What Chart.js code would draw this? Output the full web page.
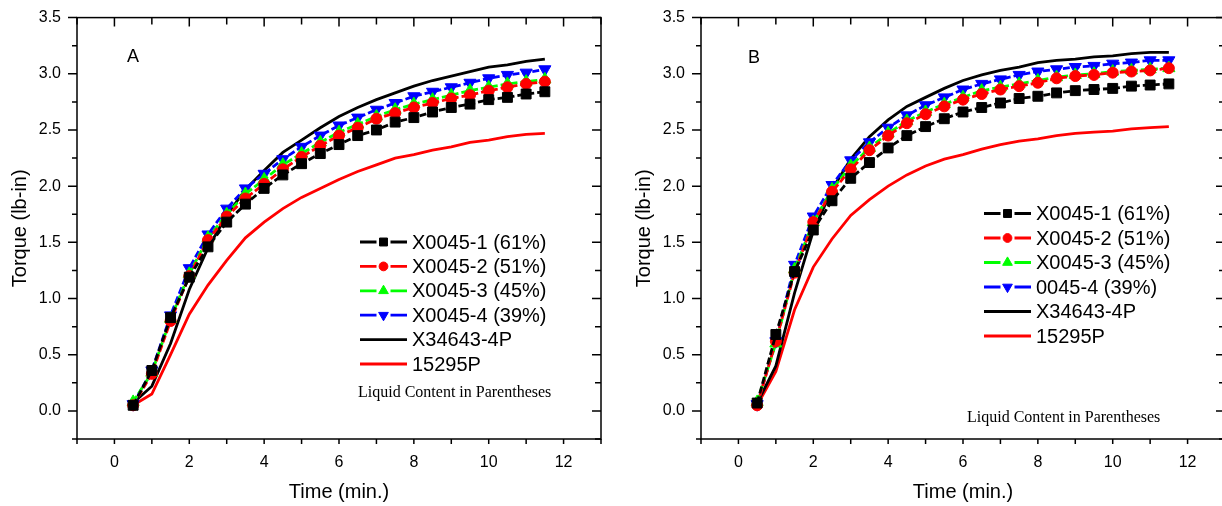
<!DOCTYPE html>
<html>
<head>
<meta charset="utf-8">
<script src="https://cdn.jsdelivr.net/npm/chart.js@4.4.0/dist/chart.umd.min.js"></script>
<style>
html, body { margin: 0; padding: 0; background: #fff; overflow: hidden; width: 1222px; height: 506px; }
.panel { position: absolute; top: 0; width: 611px; height: 506px; }
#boxA { left: 0; }
#boxB { left: 624px; }
</style>
</head>
<body>
<div class="panel" id="boxA"><canvas id="chartA"></canvas></div>
<div class="panel" id="boxB"><canvas id="chartB"></canvas></div>
<script>
// time axis (min.)
const times = [0.5, 1.0, 1.5, 2.0, 2.5, 3.0, 3.5, 4.0, 4.5, 5.0, 5.5, 6.0,
               6.5, 7.0, 7.5, 8.0, 8.5, 9.0, 9.5, 10.0, 10.5, 11.0, 11.5];

// panel A - torque (lb-in)
const a_x0045_1 = [0.05, 0.36, 0.83, 1.19, 1.46, 1.68, 1.84, 1.98, 2.10, 2.20, 2.29, 2.37, 2.45, 2.50, 2.57, 2.61, 2.66, 2.70, 2.73, 2.77, 2.79, 2.82, 2.84];
const a_x0045_2 = [0.05, 0.33, 0.80, 1.20, 1.52, 1.73, 1.89, 2.02, 2.15, 2.26, 2.36, 2.45, 2.52, 2.60, 2.65, 2.70, 2.74, 2.78, 2.81, 2.85, 2.88, 2.91, 2.93];
const a_x0045_3 = [0.08, 0.34, 0.82, 1.22, 1.54, 1.75, 1.93, 2.06, 2.19, 2.29, 2.39, 2.48, 2.55, 2.62, 2.68, 2.73, 2.77, 2.81, 2.85, 2.88, 2.91, 2.93, 2.95];
const a_x0045_4 = [0.06, 0.36, 0.85, 1.27, 1.57, 1.80, 1.98, 2.11, 2.24, 2.35, 2.45, 2.54, 2.61, 2.68, 2.74, 2.80, 2.84, 2.88, 2.92, 2.96, 2.99, 3.01, 3.04];
const a_x34643 = [0.07, 0.22, 0.60, 1.08, 1.45, 1.74, 1.97, 2.14, 2.30, 2.41, 2.52, 2.62, 2.70, 2.77, 2.83, 2.89, 2.94, 2.98, 3.02, 3.06, 3.08, 3.11, 3.13];
const a_15295 = [0.05, 0.15, 0.50, 0.86, 1.12, 1.34, 1.54, 1.68, 1.80, 1.90, 1.98, 2.06, 2.13, 2.19, 2.25, 2.28, 2.32, 2.35, 2.39, 2.41, 2.44, 2.46, 2.47];

// panel B - torque (lb-in)
const b_x0045_1 = [0.07, 0.68, 1.24, 1.61, 1.87, 2.07, 2.21, 2.34, 2.45, 2.53, 2.60, 2.66, 2.70, 2.74, 2.78, 2.80, 2.83, 2.85, 2.86, 2.87, 2.89, 2.90, 2.91];
const b_x0045_2 = [0.05, 0.62, 1.23, 1.68, 1.95, 2.15, 2.32, 2.45, 2.56, 2.64, 2.71, 2.77, 2.82, 2.86, 2.89, 2.92, 2.96, 2.98, 2.99, 3.01, 3.02, 3.03, 3.05];
const b_x0045_3 = [0.08, 0.60, 1.26, 1.68, 1.97, 2.18, 2.34, 2.47, 2.58, 2.66, 2.73, 2.79, 2.85, 2.88, 2.91, 2.94, 2.97, 2.99, 3.00, 3.02, 3.03, 3.04, 3.05];
const b_x0045_4 = [0.06, 0.62, 1.30, 1.73, 2.01, 2.23, 2.39, 2.52, 2.63, 2.72, 2.79, 2.86, 2.91, 2.95, 2.99, 3.02, 3.04, 3.06, 3.07, 3.09, 3.10, 3.12, 3.12];
const b_x34643 = [0.07, 0.40, 1.05, 1.60, 1.97, 2.24, 2.44, 2.59, 2.71, 2.79, 2.87, 2.94, 2.99, 3.03, 3.06, 3.10, 3.12, 3.13, 3.15, 3.16, 3.18, 3.19, 3.19];
const b_15295 = [0.05, 0.35, 0.90, 1.28, 1.53, 1.74, 1.88, 2.00, 2.10, 2.18, 2.24, 2.28, 2.33, 2.37, 2.40, 2.42, 2.45, 2.47, 2.48, 2.49, 2.51, 2.52, 2.53];

const namesA = ['X0045-1 (61%)', 'X0045-2 (51%)', 'X0045-3 (45%)', 'X0045-4 (39%)', 'X34643-4P', '15295P'];
const namesB = ['X0045-1 (61%)', 'X0045-2 (51%)', 'X0045-3 (45%)', '0045-4 (39%)', 'X34643-4P', '15295P'];

// series styles
const colors = ['#000000', '#ff0000', '#00ff00', '#0000ff', '#000000', '#ff0000'];
const shapes = ['rect', 'circle', 'triangle', 'triangle', false, false];
const turns = [0, 0, 0, 180, 0, 0];
const sizes = [7, 5.5, 7, 7, 0, 0];

Chart.defaults.font.family = '"Liberation Sans", Arial, sans-serif';
Chart.defaults.color = '#000';

function makeSets(series, names) {
  return series.map((vals, i) => ({
    label: names[i],
    data: times.map((t, j) => ({ x: t, y: vals[j] })),
    borderColor: colors[i],
    backgroundColor: colors[i],
    borderWidth: 2.8,
    borderDash: sizes[i] ? [7, 3] : [],
    pointStyle: shapes[i] || 'circle',
    pointRotation: turns[i],
    pointRadius: sizes[i],
    pointBorderWidth: 1,
    pointBorderColor: colors[i],
    pointBackgroundColor: colors[i],
    tension: 0,
    fill: false
  }));
}

function isHalf(v) { return Math.abs(v * 2 - Math.round(v * 2)) < 1e-6; }

const framePlugin = {
  id: 'frame',
  afterDraw(chart, args, o) {
    const ctx = chart.ctx;
    const { left, right, top, bottom } = chart.chartArea;
    const xs = chart.scales.x, ys = chart.scales.y;
    ctx.save();
    ctx.strokeStyle = '#000';
    ctx.lineWidth = 1.5;
    ctx.strokeRect(left, top, right - left, bottom - top);
    ctx.beginPath();
    xs.ticks.forEach(t => {
      const px = xs.getPixelForValue(t.value);
      const major = Math.round(t.value) % 2 === 0;
      ctx.moveTo(px, bottom); ctx.lineTo(px, bottom + 5);
      ctx.moveTo(px, top); ctx.lineTo(px, top + (major ? 9 : 7));
    });
    ys.ticks.forEach(t => {
      const py = ys.getPixelForValue(t.value);
      const major = isHalf(t.value);
      ctx.moveTo(left, py); ctx.lineTo(left - (major ? 9 : 5), py);
      ctx.moveTo(right, py); ctx.lineTo(right - (major ? 9 : 6), py);
    });
    ctx.stroke();

    // legend
    chart.data.datasets.forEach((ds, i) => {
      const y = o.legendTop + i * o.legendGap;
      const mid = (o.lineX0 + o.lineX1) / 2;
      ctx.strokeStyle = ds.borderColor;
      ctx.fillStyle = ds.borderColor;
      ctx.lineWidth = 2.8;
      ctx.beginPath();
      if (ds.pointRadius > 0) {
        ctx.moveTo(o.lineX0, y); ctx.lineTo(mid - 7, y);
        ctx.moveTo(mid + 7, y); ctx.lineTo(o.lineX1, y);
        ctx.stroke();
        ctx.lineWidth = 1;
        Chart.helpers.drawPoint(ctx, {
          pointStyle: ds.pointStyle, rotation: ds.pointRotation,
          radius: ds.pointRadius * 0.8, borderWidth: 1
        }, mid, y);
      } else {
        ctx.moveTo(o.lineX0, y); ctx.lineTo(o.lineX1, y);
        ctx.stroke();
      }
      ctx.fillStyle = '#000';
      ctx.font = '20px "Liberation Sans", Arial, sans-serif';
      ctx.textAlign = 'left';
      ctx.textBaseline = 'middle';
      ctx.fillText(ds.label, o.textX, y + 1);
    });

    ctx.fillStyle = '#000';
    ctx.font = '16px "Liberation Serif", "Times New Roman", serif';
    ctx.textAlign = 'left';
    ctx.textBaseline = 'middle';
    ctx.fillText('Liquid Content in Parentheses', o.noteX, o.noteY);

    ctx.font = '18px "Liberation Sans", Arial, sans-serif';
    ctx.textAlign = 'center';
    ctx.fillText(o.tag, o.tagX, o.tagY);
    ctx.restore();
  }
};

function makeConfig(series, names, frame) {
  return {
    type: 'line',
    data: { datasets: makeSets(series, names) },
    options: {
      responsive: true,
      maintainAspectRatio: false,
      animation: false,
      layout: { padding: { left: 0, top: 16, right: 10, bottom: 0 } },
      plugins: {
        legend: { display: false },
        tooltip: { enabled: false },
        frame: frame
      },
      scales: {
        x: {
          type: 'linear', min: -1, max: 13,
          grid: { display: false },
          border: { display: false },
          ticks: {
            stepSize: 1, autoSkip: false, maxRotation: 0, padding: 6,
            font: { size: 16 },
            callback: v => (v >= 0 && v <= 12 && v % 2 === 0) ? String(v) : ''
          },
          title: { display: true, text: 'Time (min.)', font: { size: 20 }, padding: { top: 0, bottom: 2 } },
          afterFit: s => { s.height = 67; }
        },
        y: {
          min: -0.25, max: 3.5,
          grid: { display: false },
          border: { display: false },
          ticks: {
            stepSize: 0.25, autoSkip: false, padding: 8,
            font: { size: 16 },
            callback: v => (v >= 0 && isHalf(v)) ? v.toFixed(1) : ''
          },
          title: { display: true, text: 'Torque (lb-in)', font: { size: 20 }, padding: { top: 8, bottom: 0 } },
          afterFit: s => { s.width = 77; }
        }
      }
    },
    plugins: [framePlugin]
  };
}

new Chart(document.getElementById('chartA'), makeConfig(
  [a_x0045_1, a_x0045_2, a_x0045_3, a_x0045_4, a_x34643, a_15295], namesA,
  { tag: 'A', tagX: 133, tagY: 57, legendTop: 242, legendGap: 24.4, lineX0: 360, lineX1: 407, textX: 412, noteX: 358, noteY: 393 }
));

new Chart(document.getElementById('chartB'), makeConfig(
  [b_x0045_1, b_x0045_2, b_x0045_3, b_x0045_4, b_x34643, b_15295], namesB,
  { tag: 'B', tagX: 130, tagY: 58, legendTop: 213.5, legendGap: 24.5, lineX0: 360, lineX1: 407, textX: 412, noteX: 343, noteY: 418 }
));
</script>
</body>
</html>
